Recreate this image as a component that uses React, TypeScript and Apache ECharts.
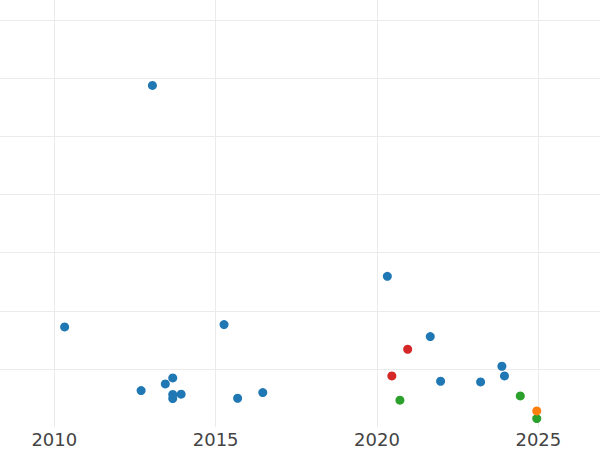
import React, { useEffect, useRef } from "react";
import * as echarts from "echarts";

// Year (x) and value (y) per group
const blueX = [2013.04, 2010.32, 2015.26, 2012.69, 2013.44, 2013.67, 2013.67, 2013.67, 2013.93, 2015.68, 2016.46, 2020.32, 2021.65, 2021.97, 2023.21, 2023.87, 2023.95];
const blueY = [587.6, 172.3, 176.5, 63, 74.4, 84.7, 56.2, 49.3, 56.7, 49.8, 59.6, 259.4, 155.8, 79, 77.9, 104.8, 88.2];
const redX = [2020.95, 2020.46];
const redY = [134, 88.2];
const greenX = [2020.71, 2024.44, 2024.95];
const greenY = [46.4, 53.8, 14.9];
const orangeX = [2024.95];
const orangeY = [28];

const xRange = [2008.317, 2026.91];
const yRange = [0, 734.4];

const zip = (xs: number[], ys: number[]) => xs.map((x, i) => [x, ys[i]]);

export default function App() {
  const ref = useRef<HTMLDivElement>(null);
  useEffect(() => {
    if (!ref.current) return;
    const chart = echarts.init(ref.current, null, { renderer: "svg" });
    const grid = "#ebebeb";
    const clear = "rgba(0,0,0,0)";
    const mk = (name: string, data: number[][], color: string) => ({
      name,
      type: "scatter",
      data,
      symbolSize: 9,
      itemStyle: { color, opacity: 1 },
      clip: true,
    });
    chart.setOption({
      animation: false,
      backgroundColor: "#ffffff",
      grid: { left: 0, right: 0, top: 0, bottom: 22.8, containLabel: false },
      xAxis: {
        type: "value",
        min: xRange[0],
        max: xRange[1],
        splitNumber: 4,
        axisLine: { show: false },
        axisTick: { show: false },
        axisLabel: {
          color: "#444",
          fontSize: 18,
          fontFamily: "DejaVu Sans",
          margin: 3,
          showMinLabel: false,
          showMaxLabel: false,
          formatter: (v: number) => String(Math.round(v)),
        },
        splitLine: { show: true, lineStyle: { color: [clear, grid, grid, grid, grid, clear], width: 1 } },
      },
      yAxis: {
        type: "value",
        min: yRange[0],
        max: yRange[1],
        interval: 100,
        axisLine: { show: false },
        axisTick: { show: false },
        axisLabel: { show: false },
        splitLine: {
          show: true,
          lineStyle: { color: [clear, grid, grid, grid, grid, grid, grid, grid, clear, clear], width: 1 },
        },
      },
      series: [
        mk("blue", zip(blueX, blueY), "#1f77b4"),
        mk("red", zip(redX, redY), "#d62728"),
        mk("green", zip(greenX, greenY), "#2ca02c"),
        mk("orange", zip(orangeX, orangeY), "#ff7f0e"),
      ],
    });
    return () => chart.dispose();
  }, []);
  return (
    <div
      ref={ref}
      style={{ position: "fixed", left: 0, top: 0, width: 600, height: 450 }}
    />
  );
}
